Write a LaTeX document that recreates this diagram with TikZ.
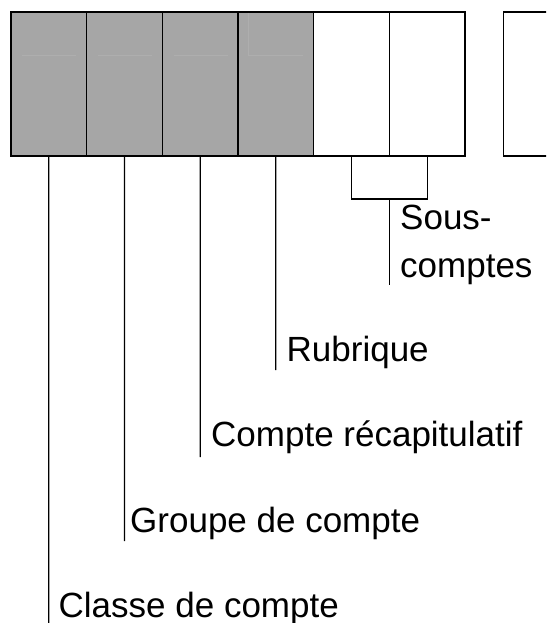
\documentclass[tikz,border=0pt]{standalone}
\usepackage{fontspec}
\setmainfont{Liberation Sans}
\usetikzlibrary{positioning}
\definecolor{cellgrey}{HTML}{A6A6A6}
\definecolor{ghostgrey}{HTML}{AEAEAE}
\tikzset{
	account code/.style={
		x=1pt,y=-1pt,
		font=\fontsize{35}{45}\selectfont,
		label line/.style={line width=1.3pt},
		ghost line/.style={ghostgrey,line width=0.8pt}
	},
	digit/.style={
		rectangle,
		draw,
		line width=1.6pt,
		minimum width=75.67pt,
		minimum height=144pt,
		inner sep=0pt,
		outer sep=0pt
	},
	filled digit/.style={
		digit,
		fill=cellgrey
	},
	caption/.style={
		anchor=base west,
		inner sep=0pt,
		align=left
	}
}
\begin{document}
\begin{tikzpicture}[account code]
	\useasboundingbox (0,0) rectangle (546,623);
	\clip (0,0) rectangle (546,623);
	% the digits of the account number
	\foreach \i in {1,...,4}
		\node[filled digit] (d\i) at ({11+75.67*(\i-0.5)},84) {};
	\foreach \i in {5,6}
		\node[digit] (d\i) at ({11+75.67*(\i-0.5)},84) {};
	\node[digit] (d7) at (541.2,84) {};
	\draw[ghost line] (22,55) -- (76,55);
	\draw[ghost line] (98,55) -- (152,55);
	\draw[ghost line] (174,55) -- (228,55);
	\draw[ghost line] (248,13) -- (248,55) -- (303,55);
	% ends of the label lines
	\coordinate (classe end) at (48.83,623);
	\coordinate (groupe end) at (124.5,541);
	\coordinate (recap end) at (200.17,457);
	\coordinate (rubrique end) at (275.83,370);
	\coordinate (bracket) at (389.3,199);
	\coordinate (sous end) at (389.3,285);
	\draw[label line] (d1.south) -- (classe end);
	\draw[label line] (d2.south) -- (groupe end);
	\draw[label line] (d3.south) -- (recap end);
	\draw[label line] (d4.south) -- (rubrique end);
	\draw[label line] (d5.south) |- (bracket) -| (d6.south);
	\draw[label line] (bracket) -- (sous end);
	% labels
	\node[caption] (sous) at (400,277) {Sous-\\[3pt]comptes};
	\node[caption] (rubrique) at (286.5,361) {Rubrique};
	\node[caption] (recap) at (211,446) {Compte récapitulatif};
	\node[caption] (groupe) at (130,532) {Groupe de compte};
	\node[caption] (classe) at (58.5,617) {Classe de compte};
\end{tikzpicture}
\end{document}
